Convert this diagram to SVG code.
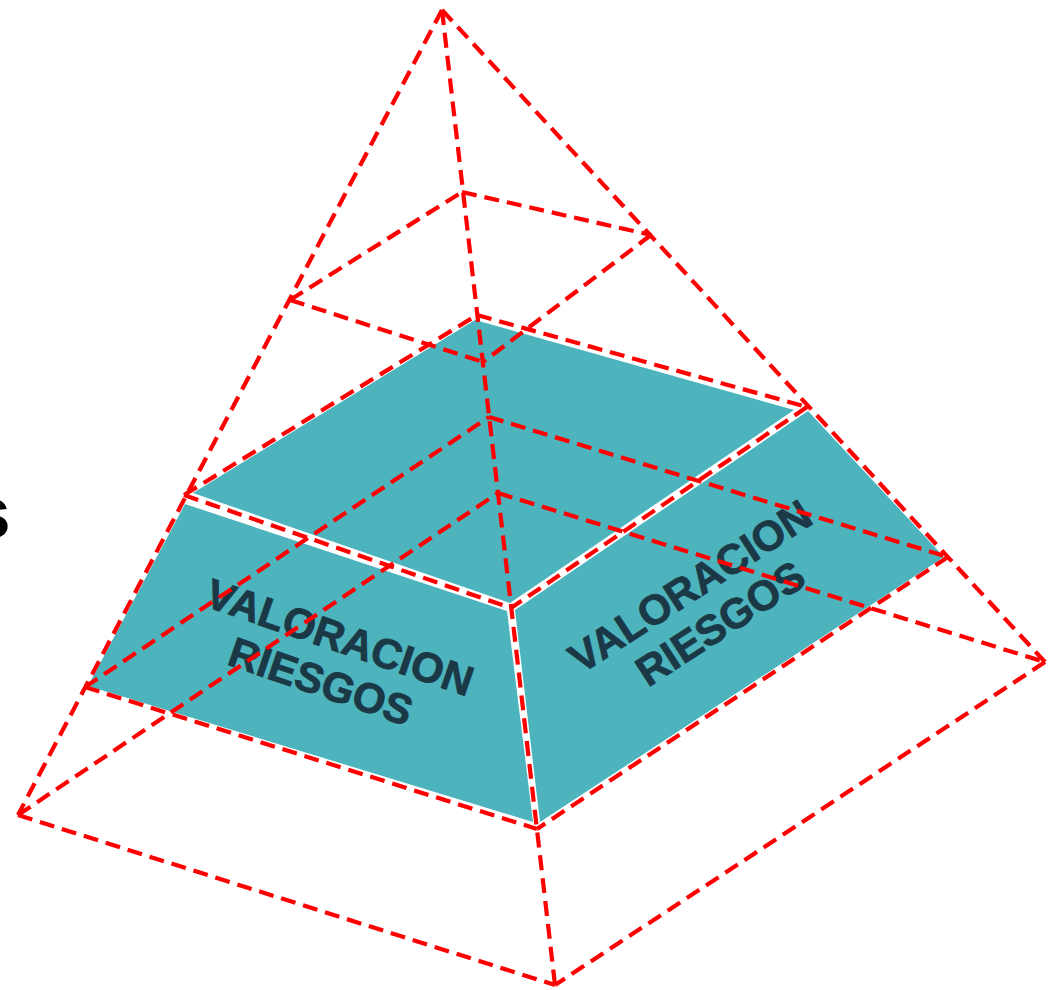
<svg xmlns="http://www.w3.org/2000/svg" width="1052" height="990" viewBox="0 0 1052 990">
  <style>
    .face { fill: #4DB3BC; stroke: none; }
    .lbl { font-family: "Liberation Sans", Arial, sans-serif; font-weight: bold; font-size: 42px; fill: #1B3846; stroke: #1B3846; stroke-width: 0.8; text-anchor: middle; }
    .edge { stroke: #FF0000; stroke-width: 4.2; stroke-dasharray: 15 8; fill: none; stroke-linecap: butt; }
    .stray { font-family: "Liberation Sans", Arial, sans-serif; font-weight: bold; font-size: 75px; fill: #000000; }
  </style>
  <rect x="0" y="0" width="1052" height="990" fill="#FFFFFF"/>
  <text class="stray" x="-31" y="538">s</text>

  <g id="top-face">
    <polygon class="face" points="475,320 794,410 510,603 193,493"/>
  </g>
  <g id="left-face">
    <polygon class="face" points="185,504 507,611 533,822 88,686"/>
    <text class="lbl" transform="translate(340,637) rotate(19)" x="0" y="15">VALORACION</text>
    <text class="lbl" transform="translate(321,681) rotate(19)" x="0" y="15">RIESGOS</text>
  </g>
  <g id="right-face">
    <polygon class="face" points="515,610 808,411 944,557 540,822"/>
    <text class="lbl" transform="translate(690,586) rotate(-33)" x="0" y="15">VALORACION</text>
    <text class="lbl" transform="translate(720,623) rotate(-33)" x="0" y="15">RIESGOS</text>
  </g>

  <g id="connectors">
    <line class="edge" x1="442" y1="10" x2="18" y2="815"/>
    <line class="edge" x1="442" y1="10" x2="555" y2="985"/>
    <line class="edge" x1="442" y1="10" x2="1045" y2="662"/>
    <line class="edge" x1="290" y1="300" x2="462" y2="192"/>
    <line class="edge" x1="462" y1="192" x2="651" y2="235"/>
    <line class="edge" x1="651" y1="235" x2="483" y2="362"/>
    <line class="edge" x1="290" y1="300" x2="483" y2="362"/>
    <line class="edge" x1="184" y1="495" x2="477" y2="315"/>
    <line class="edge" x1="477" y1="315" x2="807" y2="407"/>
    <line class="edge" x1="807" y1="407" x2="511" y2="608"/>
    <line class="edge" x1="184" y1="495" x2="511" y2="608"/>
    <line class="edge" x1="85" y1="687" x2="489" y2="417"/>
    <line class="edge" x1="489" y1="417" x2="948" y2="557"/>
    <line class="edge" x1="948" y1="557" x2="537" y2="829"/>
    <line class="edge" x1="85" y1="687" x2="537" y2="829"/>
    <line class="edge" x1="18" y1="815" x2="498" y2="493"/>
    <line class="edge" x1="498" y1="493" x2="1045" y2="662"/>
    <line class="edge" x1="1045" y1="662" x2="555" y2="985"/>
    <line class="edge" x1="18" y1="815" x2="555" y2="985"/>
  </g>
</svg>
